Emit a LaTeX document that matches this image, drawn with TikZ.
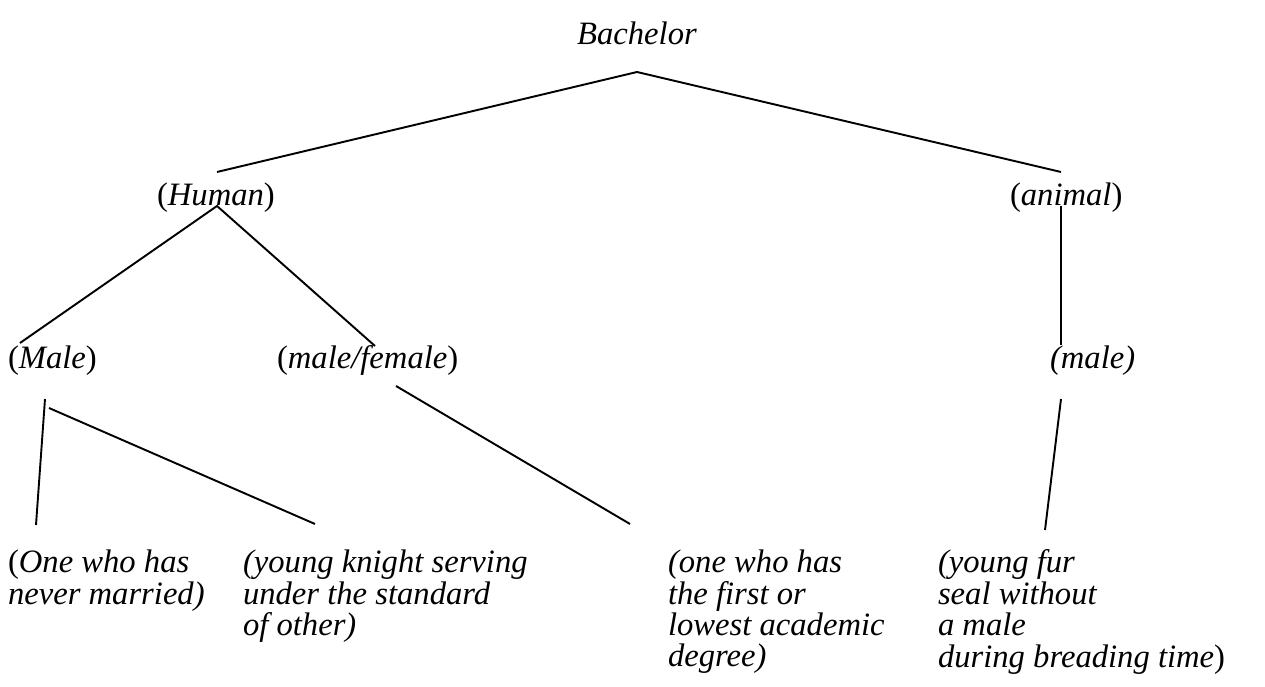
\documentclass[tikz,border=0pt]{standalone}
\usepackage{fontspec}
\setmainfont{Liberation Serif}
\begin{document}
\begin{tikzpicture}[x=0.41667pt,y=-0.41667pt,
  lbl/.style={inner sep=0pt,outer sep=0pt,font=\fontsize{13.6}{13.1}\selectfont},
  blk/.style={lbl,align=left,anchor=north west},
  edge/.style={line width=0.8pt}]
\useasboundingbox (0,0) rectangle (1265,687);
% nodes
\node[lbl,anchor=base] (bach) at (637,45) {\textit{Bachelor}};
\node[lbl,anchor=base west] (human) at (157,206) {(\textit{Human})};
\node[lbl,anchor=base west] (animal) at (1010,206) {(\textit{animal})};
\node[lbl,anchor=base west] (male1) at (8,369) {(\textit{Male})};
\node[lbl,anchor=base west] (mf) at (277,369) {(\textit{male/female})};
\node[lbl,anchor=base west] (male2) at (1050,369) {\textit{(male)}};
\node[blk] (l1) at (8,550) {(\textit{One who has}\\\textit{never married)}};
\node[blk] (l2) at (243,550) {\textit{(young knight serving}\\\textit{under the standard}\\\textit{of other)}};
\node[blk] (l3) at (668,550) {\textit{(one who has}\\\textit{the first or}\\\textit{lowest academic}\\\textit{degree)}};
\node[blk] (l4) at (938,550) {\textit{(young fur}\\\textit{seal without}\\\textit{a male}\\\textit{during breading time})};
% connector end points
\coordinate (bTop) at (637,72);
\coordinate (hUp) at (217,172);
\coordinate (aUp) at (1061,172);
\coordinate (hDn) at (217,206);
\coordinate (m1Up) at (20,343);
\coordinate (mfUp) at (375,346);
\coordinate (aDn) at (1061,206);
\coordinate (m2Up) at (1061,345);
\coordinate (m1DnA) at (45,399);
\coordinate (m1DnB) at (49,408);
\coordinate (l1Up) at (36,525);
\coordinate (l2Up) at (315,524);
\coordinate (mfDn) at (396,386);
\coordinate (l3Up) at (630,524);
\coordinate (m2Dn) at (1061,399);
\coordinate (l4Up) at (1045,530);
% connectors
\draw[edge] (hUp) -- (bTop) -- (aUp);
\draw[edge] (m1Up) -- (hDn) -- (mfUp);
\draw[edge] (aDn) -- (m2Up);
\draw[edge] (m1DnA) -- (l1Up);
\draw[edge] (m1DnB) -- (l2Up);
\draw[edge] (mfDn) -- (l3Up);
\draw[edge] (m2Dn) -- (l4Up);
\end{tikzpicture}
\end{document}
